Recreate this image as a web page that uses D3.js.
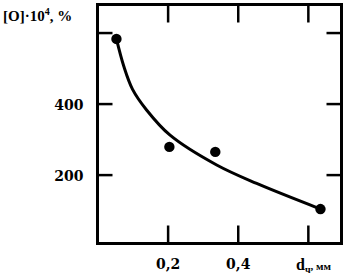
<!DOCTYPE html>
<html><head><meta charset="utf-8">
<script src="https://cdn.jsdelivr.net/npm/d3@7/dist/d3.min.js"></script>
<style>
html,body{margin:0;padding:0;background:#fff;}
svg{display:block;}
text{font-family:"Liberation Serif","Times New Roman",serif;font-weight:bold;fill:#000;}
</style></head>
<body>
<script>
// data
const pointsX = [0.054, 0.205, 0.336, 0.636];
const pointsY = [582, 278, 264, 103];
const curveX = [0.054, 0.075, 0.100, 0.140, 0.207, 0.340, 0.454, 0.636];
const curveY = [582, 505, 440, 382, 311, 227, 175, 103];
const xTicks = [0.2, 0.4, 0.6];
const xTickLabels = ["0,2", "0,4", ""];
const yTicks = [200, 400, 600];
const yTickLabels = ["200", "400", ""];

const W = 355, H = 277;
const L = 97.5, R = 341.5, T = 4.5, B = 243.5;

const svg = d3.select("body").append("svg").attr("width", W).attr("height", H);

const x = d3.scaleLinear().domain([0, 0.696]).range([L, R]);
const y = d3.scaleLinear().domain([6, 679]).range([B, T]);

const tickFont = '"DejaVu Serif",serif';

// axes with inward ticks
const gl = svg.append("g").attr("transform", `translate(${L},0)`)
  .call(d3.axisLeft(y).tickValues(yTicks).tickSize(-15).tickPadding(14)
    .tickFormat((d, i) => yTickLabels[i]));
const gr = svg.append("g").attr("transform", `translate(${R},0)`)
  .call(d3.axisRight(y).tickValues(yTicks).tickSize(-15).tickFormat(""));
const gb = svg.append("g").attr("transform", `translate(0,${B})`)
  .call(d3.axisBottom(x).tickValues(xTicks).tickSize(-18).tickPadding(16)
    .tickFormat((d, i) => xTickLabels[i]));
const gt = svg.append("g").attr("transform", `translate(0,${T})`)
  .call(d3.axisTop(x).tickValues(xTicks).tickSize(-18).tickFormat(""));

[gl, gr, gb, gt].forEach(g => {
  g.select(".domain").remove();
  g.selectAll(".tick line").attr("stroke", "#000").attr("stroke-width", 2.5);
  g.selectAll("text").attr("font-family", null).attr("font-size", "14px")
    .style("font-family", tickFont).style("font-weight", "bold");
});
gl.selectAll("text").attr("dy", "0.45em");

// frame
svg.append("rect").attr("x", L).attr("y", T).attr("width", R - L).attr("height", B - T)
  .attr("fill", "none").attr("stroke", "#000").attr("stroke-width", 3);

// fitted curve
const line = d3.line().x(d => x(d[0])).y(d => y(d[1])).curve(d3.curveCatmullRom.alpha(0.5));
svg.append("path").datum(curveX.map((v, i) => [v, curveY[i]]))
  .attr("d", line).attr("fill", "none").attr("stroke", "#000").attr("stroke-width", 3);

// points
svg.selectAll("circle.pt").data(pointsX.map((v, i) => [v, pointsY[i]])).enter()
  .append("circle").attr("class", "pt")
  .attr("cx", d => x(d[0])).attr("cy", d => y(d[1])).attr("r", 5.2).attr("fill", "#000");

// y title
const yt = svg.append("text").attr("x", 3).attr("y", 21).attr("font-size", "15px");
yt.append("tspan").text("[O]·10");
yt.append("tspan").attr("font-size", "10px").attr("dy", -6).text("4");
yt.append("tspan").attr("dy", 6).text(", %");

// x title
const xt = svg.append("text").attr("x", 296).attr("y", 270).attr("font-size", "16px");
xt.append("tspan").text("d");
xt.append("tspan").attr("font-size", "10px").attr("dy", 3).text("ч");
xt.append("tspan").attr("font-size", "11px").attr("dy", -3).text(", мм");
</script>
</body></html>
